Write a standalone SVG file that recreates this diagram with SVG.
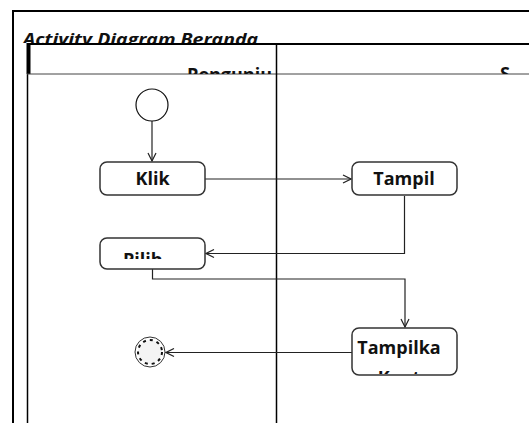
<svg xmlns="http://www.w3.org/2000/svg" width="529" height="423" viewBox="0 0 529 423">
<defs>
<style>
.t{font-family:"Open Sans","Noto Sans",sans-serif;font-weight:bold;fill:#111;}
.box{fill:#fff;stroke:#333;stroke-width:1.5;}
.conn{fill:none;stroke:#222;stroke-width:1.2;}
</style>
<marker id="arr" markerWidth="10" markerHeight="10" refX="9" refY="5" orient="auto" markerUnits="userSpaceOnUse">
<path d="M1,1 L9,5 L1,9" fill="none" stroke="#222" stroke-width="1.2"/>
</marker>
<clipPath id="cTitle"><rect x="0" y="0" width="529" height="43"/></clipPath>
<clipPath id="cHead1"><rect x="30" y="44" width="244" height="30"/></clipPath>
<clipPath id="cHead2"><rect x="278" y="44" width="251" height="30"/></clipPath>
<clipPath id="cPilih"><rect x="100" y="238" width="105" height="21"/></clipPath>
<clipPath id="cTamp"><rect x="352" y="329" width="105" height="45"/></clipPath>
</defs>
<rect width="529" height="423" fill="#fff"/>
<g id="frame">
<path d="M13,423 V11 H529" fill="none" stroke="#000" stroke-width="2"/>
<text class="t" x="23" y="45" font-size="16" font-style="italic" textLength="235" lengthAdjust="spacingAndGlyphs" clip-path="url(#cTitle)">Activity Diagram Beranda</text>
</g>
<g id="swimlanes">
<rect x="27" y="43" width="502" height="380" fill="#fff"/>
<path d="M27,44 H529" stroke="#000" stroke-width="2"/>
<path d="M28.5,43 V74" stroke="#000" stroke-width="4"/>
<path d="M27.5,74 V423" stroke="#000" stroke-width="1.5"/>
<path d="M27,74 H529" stroke="#444" stroke-width="1"/>
<path d="M276.5,44 V423" stroke="#000" stroke-width="1.5"/>
<text class="t" x="272" y="81" font-size="18" text-anchor="end" clip-path="url(#cHead1)">Pengunju</text>
<text class="t" x="500" y="80" font-size="18" clip-path="url(#cHead2)">S</text>
</g>
<g id="connectors">
<path class="conn" d="M152,121 V161" marker-end="url(#arr)"/>
<path class="conn" d="M205,179 H351" marker-end="url(#arr)"/>
<path class="conn" d="M404.5,196 V253.5 H206" marker-end="url(#arr)"/>
<path class="conn" d="M152.5,269 V279 H405 V327" marker-end="url(#arr)"/>
<path class="conn" d="M352,352.5 H166" marker-end="url(#arr)"/>
</g>
<g id="start">
<circle cx="152" cy="105" r="16" fill="#fff" stroke="#111" stroke-width="1.2"/>
</g>
<g id="klik">
<rect class="box" x="100" y="162" width="105" height="33" rx="7"/>
<text class="t" x="152.5" y="185" font-size="18" text-anchor="middle">Klik</text>
</g>
<g id="tampil">
<rect class="box" x="352" y="162" width="105" height="33" rx="7"/>
<text class="t" x="404" y="185" font-size="18" text-anchor="middle">Tampil</text>
</g>
<g id="pilih">
<rect class="box" x="100" y="238" width="105" height="31" rx="7"/>
<text class="t" x="123" y="266" font-size="18" clip-path="url(#cPilih)">Pilih</text>
</g>
<g id="tampilkan">
<rect class="box" x="352" y="328" width="105" height="47" rx="7"/>
<g clip-path="url(#cTamp)">
<text class="t" x="399" y="354" font-size="18" text-anchor="middle">Tampilka</text>
<text class="t" x="402" y="384" font-size="18" text-anchor="middle">n Konten</text>
</g>
</g>
<g id="end">
<circle cx="150" cy="352" r="15" fill="#fff" stroke="#333" stroke-width="1"/>
<circle cx="150" cy="352" r="12" fill="#f4f4f4" stroke="#111" stroke-width="2" stroke-dasharray="3 4"/>
</g>
</svg>
